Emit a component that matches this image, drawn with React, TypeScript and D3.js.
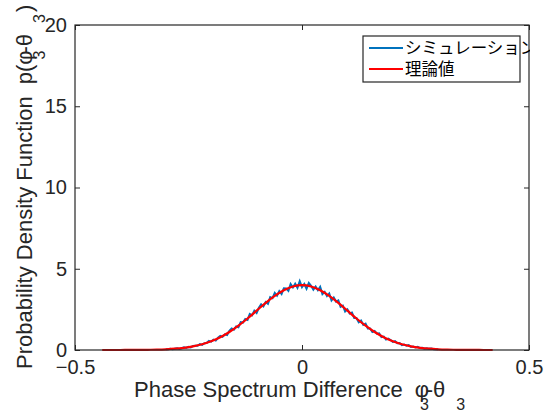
import React, { useEffect, useRef } from 'react';
import * as d3 from 'd3';

// simulated histogram (bin step 0.005, from -0.3)
const simStart = -0.3;
const simStep = 0.005;
const simValues = [
  0.05, 0.05, 0.08, 0.05, 0.08, 0.11, 0.07, 0.11, 0.17, 0.13,
  0.19, 0.16, 0.25, 0.26, 0.26, 0.36, 0.31, 0.42, 0.43, 0.56,
  0.51, 0.64, 0.58, 0.75, 0.87, 0.81, 0.96, 0.92, 1.18, 1.33,
  1.25, 1.45, 1.40, 1.72, 1.69, 1.91, 1.85, 2.22, 2.13, 2.42,
  2.28, 2.60, 2.81, 2.68, 2.95, 2.84, 3.25, 3.19, 3.51, 3.34,
  3.62, 3.45, 3.80, 3.79, 3.64, 4.06, 3.85, 4.08, 3.83, 4.24,
  3.87, 4.06, 3.77, 4.12, 3.95, 3.71, 3.91, 3.68, 3.89, 3.44,
  3.58, 3.32, 3.48, 3.05, 3.23, 2.98, 3.05, 2.66, 2.73, 2.37,
  2.50, 2.25, 2.30, 1.97, 1.97, 1.71, 1.81, 1.55, 1.62, 1.33,
  1.33, 1.11, 1.17, 1.00, 1.03, 0.80, 0.83, 0.64, 0.70, 0.61,
  0.50, 0.54, 0.42, 0.43, 0.30, 0.34, 0.27, 0.30, 0.19, 0.21,
  0.15, 0.19, 0.12, 0.14, 0.08, 0.11, 0.07, 0.09, 0.05, 0.06,
  0.04,
];

// theoretical curve (step 0.02, from -0.44)
const theoryStart = -0.44;
const theoryStep = 0.02;
const theoryValues = [
  0, 0, 0.001, 0.003, 0.006, 0.012, 0.024, 0.044, 0.079, 0.136,
  0.224, 0.355, 0.54, 0.79, 1.11, 1.5, 1.94, 2.42, 2.9, 3.33,
  3.68, 3.91, 3.99, 3.91, 3.68, 3.33, 2.9, 2.42, 1.94, 1.5,
  1.11, 0.79, 0.54, 0.355, 0.224, 0.136, 0.079, 0.044, 0.024, 0.012,
  0.006, 0.003, 0.001, 0,
];

const xTicks = [-0.5, 0, 0.5];
const yTicks = [0, 5, 10, 15, 20];
const legendLabels = ['シミュレーション', '理論値'];
const colors = ['#0072BD', '#FF0000'];

const App = () => {
  const ref = useRef<SVGSVGElement>(null);

  useEffect(() => {
    const margin = { top: 25, right: 29, bottom: 65, left: 75 },
      width = 558 - margin.left - margin.right,
      height = 415 - margin.top - margin.bottom;
    const axisColor = '#262626';
    const font = '"Liberation Sans", Arial, Helvetica, sans-serif';

    const root = d3.select(ref.current);
    root.selectAll('*').remove();

    root
      .append('defs')
      .append('clipPath')
      .attr('id', 'textclip')
      .append('rect')
      .attr('x', 0)
      .attr('y', 0)
      .attr('width', margin.left + width + 1)
      .attr('height', 415);

    const svg = root
      .append('g')
      .attr('transform', `translate(${margin.left},${margin.top})`);

    const x = d3.scaleLinear().domain([-0.5, 0.5]).range([0, width]);
    const y = d3.scaleLinear().domain([0, 20]).range([height, 0]);

    const simData = simValues.map((v, i) => [simStart + i * simStep, v] as [number, number]);
    const theoryData = theoryValues.map((v, i) => [theoryStart + i * theoryStep, v] as [number, number]);

    const line = d3
      .line<[number, number]>()
      .x((d) => x(d[0]))
      .y((d) => y(d[1]));

    // simulation
    svg
      .append('path')
      .datum(simData)
      .attr('fill', 'none')
      .attr('stroke', colors[0])
      .attr('stroke-width', 2)
      .attr('d', line);

    // theory
    svg
      .append('path')
      .datum(theoryData)
      .attr('fill', 'none')
      .attr('stroke', colors[1])
      .attr('stroke-width', 2.2)
      .attr('d', line.curve(d3.curveMonotoneX));

    // box
    svg
      .append('rect')
      .attr('width', width)
      .attr('height', height)
      .attr('fill', 'none')
      .attr('stroke', axisColor)
      .attr('stroke-width', 1.2);

    // axes (ticks inward, also on top/right)
    const tickLen = 5;
    const styleAxis = (g) => {
      g.select('.domain').remove();
      g.selectAll('line').attr('stroke', axisColor);
      g.selectAll('text')
        .attr('fill', axisColor)
        .style('font-family', font)
        .style('font-size', '20px');
    };
    svg
      .append('g')
      .attr('transform', `translate(0,${height})`)
      .call(d3.axisBottom(x).tickValues(xTicks).tickSizeInner(-tickLen).tickPadding(10).tickFormat(d3.format('')))
      .call(styleAxis);
    svg
      .append('g')
      .call(d3.axisTop(x).tickValues(xTicks).tickSizeInner(-tickLen).tickFormat(() => ''))
      .call(styleAxis);
    svg
      .append('g')
      .call(d3.axisLeft(y).tickValues(yTicks).tickSizeInner(-tickLen).tickPadding(8))
      .call(styleAxis);
    svg
      .append('g')
      .attr('transform', `translate(${width},0)`)
      .call(d3.axisRight(y).tickValues(yTicks).tickSizeInner(-tickLen).tickFormat(() => ''))
      .call(styleAxis);

    // x label
    const xl = root
      .append('text')
      .attr('x', 134)
      .attr('y', 397)
      .attr('fill', axisColor)
      .style('font-family', font)
      .style('font-size', '22px');
    xl.append('tspan').text('Phase Spectrum Difference');
    xl.append('tspan').attr('dx', 12).text('φ');
    xl.append('tspan').attr('dx', -9).attr('dy', 13).style('font-size', '16px').text('3');
    xl.append('tspan').attr('dx', -3).attr('dy', -13).text('-θ');
    xl.append('tspan').attr('dx', 11).attr('dy', 13).style('font-size', '16px').text('3');

    // y label
    const yl = root
      .append('text')
      .attr('transform', 'translate(32,369) rotate(-90)')
      .attr('fill', axisColor)
      .style('font-family', font)
      .style('font-size', '22px');
    yl.append('tspan').text('Probability Density Function');
    yl.append('tspan').attr('dx', 12).text('p(φ');
    yl.append('tspan').attr('dx', -9).attr('dy', 13).style('font-size', '16px').text('3');
    yl.append('tspan').attr('dx', -3).attr('dy', -13).text('-θ');
    yl.append('tspan').attr('dx', 11).attr('dy', 13).style('font-size', '16px').text('3');
    yl.append('tspan').attr('dx', 2).attr('dy', -13).text(')');

    // legend
    const lg = root
      .append('g')
      .attr('clip-path', 'url(#textclip)')
      .append('g')
      .attr('transform', 'translate(363,36)');
    lg.append('rect')
      .attr('width', 157)
      .attr('height', 46)
      .attr('fill', '#ffffff')
      .attr('stroke', axisColor)
      .attr('stroke-width', 1.2);
    legendLabels.forEach((label, i) => {
      const row = lg.append('g').attr('transform', `translate(0,${12 + i * 21})`);
      row
        .append('line')
        .attr('x1', 6)
        .attr('x2', 40)
        .attr('stroke', colors[i])
        .attr('stroke-width', 2);
      row
        .append('text')
        .attr('x', 42)
        .attr('dy', '0.36em')
        .attr('fill', '#000000')
        .style('font-family', '"Noto Sans CJK JP", sans-serif')
        .style('font-size', '16.5px')
        .text(label);
    });
  }, []);

  return (
    <svg
      ref={ref}
      width={558}
      height={415}
      style={{ position: 'absolute', left: 0, top: 0, background: '#ffffff' }}
    />
  );
};

export default App;
